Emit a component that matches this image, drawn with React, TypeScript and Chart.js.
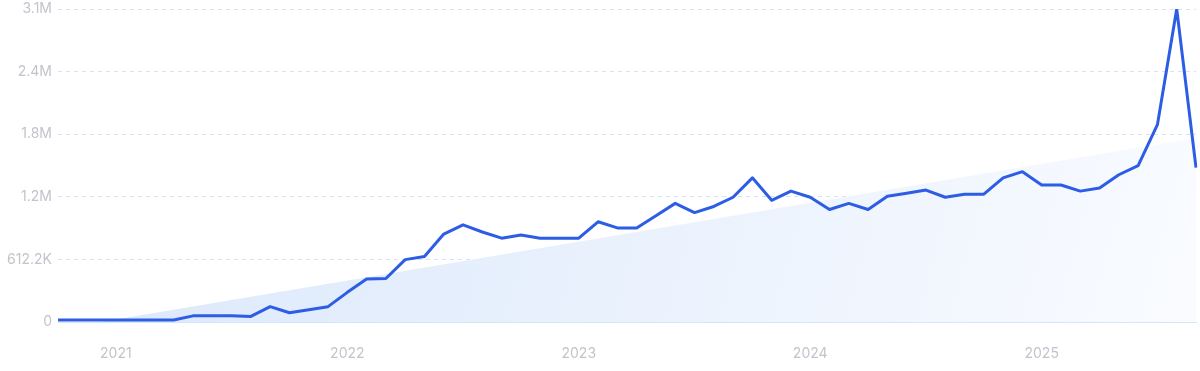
import React, { useEffect, useRef } from "react";
import { Chart, registerables } from "chart.js";

Chart.register(...registerables);

const months: string[] = [
  "2020-10", "2020-11", "2020-12",
  "2021-01", "2021-02", "2021-03", "2021-04", "2021-05", "2021-06", "2021-07", "2021-08", "2021-09", "2021-10", "2021-11", "2021-12",
  "2022-01", "2022-02", "2022-03", "2022-04", "2022-05", "2022-06", "2022-07", "2022-08", "2022-09", "2022-10", "2022-11", "2022-12",
  "2023-01", "2023-02", "2023-03", "2023-04", "2023-05", "2023-06", "2023-07", "2023-08", "2023-09", "2023-10", "2023-11", "2023-12",
  "2024-01", "2024-02", "2024-03", "2024-04", "2024-05", "2024-06", "2024-07", "2024-08", "2024-09", "2024-10", "2024-11", "2024-12",
  "2025-01", "2025-02", "2025-03", "2025-04", "2025-05", "2025-06", "2025-07", "2025-08", "2025-09",
];

const searches: number[] = [
  20000, 20000, 20000,
  20000, 20000, 20000, 20000, 60000, 60000, 60000, 55000, 150000, 90000, 120000, 150000,
  290000, 420000, 425000, 610000, 640000, 860000, 950000, 880000, 820000, 850000, 820000, 820000,
  820000, 980000, 920000, 920000, 1040000, 1160000, 1070000, 1130000, 1220000, 1410000, 1190000, 1280000,
  1220000, 1100000, 1160000, 1100000, 1230000, 1260000, 1290000, 1220000, 1250000, 1250000, 1410000, 1470000,
  1340000, 1340000, 1280000, 1310000, 1440000, 1530000, 1930000, 3061000, 1510000,
];

// trend line endpoints (first month, last month)
const trendEnds: number[] = [-70000, 1800000];

const yTickValues: number[] = [0, 612200, 1224400, 1836600, 2448800, 3061000];
const yMax = 3061000;

function fmt(v: number): string {
  if (v >= 1e6) return (v / 1e6).toFixed(1) + "M";
  if (v >= 1e3) return (v / 1e3).toFixed(1) + "K";
  return String(v);
}

export default function App() {
  const ref = useRef<HTMLCanvasElement | null>(null);

  useEffect(() => {
    if (!ref.current) return;
    const trendData: (number | null)[] = months.map((_, i) =>
      i === 0 ? trendEnds[0] : i === months.length - 1 ? trendEnds[1] : null
    );
    const font = { family: "Inter, 'Noto Sans', sans-serif", size: 14 };
    const chart = new Chart(ref.current, {
      type: "line",
      data: {
        labels: months,
        datasets: [
          {
            data: searches,
            borderColor: "#2d5de4",
            borderWidth: 3,
            pointRadius: 0,
            tension: 0,
            fill: false,
            order: 0,
            borderJoinStyle: "round",
          },
          {
            data: trendData,
            spanGaps: true,
            borderWidth: 0,
            borderColor: "rgba(0,0,0,0)",
            pointRadius: 0,
            tension: 0,
            fill: "origin",
            order: 1,
            backgroundColor: (ctx: any) => {
              const area = ctx.chart.chartArea;
              if (!area) return "#e4eefc";
              const g = ctx.chart.ctx.createLinearGradient(area.left, area.top, area.right, area.bottom);
              g.addColorStop(0, "#d9e7fb");
              g.addColorStop(1, "#f9fbff");
              return g;
            },
          },
        ],
      },
      options: {
        animation: false,
        responsive: false,
        maintainAspectRatio: false,
        layout: { padding: { top: 9, right: 4, left: 0, bottom: 0 } },
        plugins: { legend: { display: false }, tooltip: { enabled: false } },
        scales: {
          x: {
            type: "category",
            offset: false,
            grid: { display: false, drawTicks: false },
            border: { display: true, color: "#d3e6fb", width: 1 },
            ticks: {
              autoSkip: false,
              maxRotation: 0,
              minRotation: 0,
              padding: 23,
              color: "#c3c3cc",
              font,
              callback: (_v: any, i: number) => {
                const m = months[i];
                return m && m.endsWith("-01") ? m.slice(0, 4) : "";
              },
            },
            afterFit: (s: any) => {
              s.height = 49;
              s.paddingLeft = 0;
              s.paddingRight = 0;
            },
          },
          y: {
            min: 0,
            max: yMax,
            grid: {
              color: "#d6e3f7",
              lineWidth: 1,
              drawTicks: false,
            },
            border: { display: false, dash: [4, 4] },
            afterBuildTicks: (s: any) => {
              s.ticks = yTickValues.map((v) => ({ value: v }));
            },
            ticks: {
              padding: 6,
              color: "#c3c3cc",
              font,
              callback: (v: any) => fmt(Number(v)),
            },
            afterFit: (s: any) => {
              s.width = 58;
              s.paddingTop = 0;
              s.paddingBottom = 0;
            },
          },
        },
      },
    } as any);
    return () => chart.destroy();
  }, []);

  return (
    <div style={{ position: "fixed", left: 0, top: 0, width: 1200, height: 371, background: "#ffffff" }}>
      <canvas ref={ref} width={1200} height={371} style={{ width: 1200, height: 371, display: "block" }} />
    </div>
  );
}
